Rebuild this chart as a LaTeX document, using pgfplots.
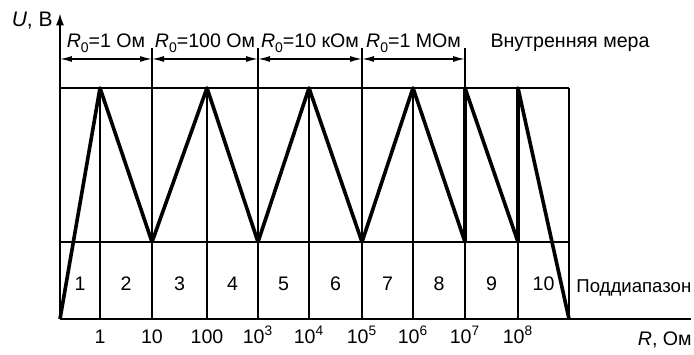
\documentclass[border=0pt]{standalone}
\usepackage{fontspec}
\setmainfont{Liberation Sans}
\usepackage{pgfplots}
\pgfplotsset{compat=1.18}
\usetikzlibrary{arrows.meta}
\newcommand{\Rnull}{\textit{R}\raisebox{-0.55ex}{\fontsize{7pt}{8pt}\selectfont 0}}
\begin{document}
\fontsize{9.8pt}{12pt}\selectfont
\begin{tikzpicture}[lbl/.style={inner sep=0pt}]
\useasboundingbox (-30pt,-17.5pt) rectangle (317pt,159.5pt);
\begin{axis}[
  anchor=south west, at={(0,0)},
  x=0.5pt, y=38.5pt,
  xmin=0, xmax=631, ymin=0, ymax=3.97,
  axis x line=bottom, axis y line=left,
  x axis line style={-, line width=1pt},
  y axis line style={-{Latex[length=6pt,width=4pt]}, line width=1pt},
  xtick={40,92,147,198,249,302,353,405,458,509},
  xticklabels={1,10,100,10\textsuperscript{3},10\textsuperscript{4},10\textsuperscript{5},10\textsuperscript{6},10\textsuperscript{7},10\textsuperscript{8}},
  ytick=\empty,
  major tick length=0pt,
  every x tick label/.append style={anchor=base, yshift=-12pt, font=\fontsize{9.8pt}{12pt}\selectfont},
  clip=false,
]
% frame and cell grid of the subranges
\draw[line width=0.7pt] (axis cs:0,1) -- (axis cs:509,1);
\draw[line width=0.7pt] (axis cs:0,3) -- (axis cs:509,3);
\pgfplotsinvokeforeach{40,147,249,353,458,509}{
  \draw[line width=0.7pt] (axis cs:#1,0) -- (axis cs:#1,3);
}
% boundaries between R0 ranges reach above the frame
\pgfplotsinvokeforeach{92,198,302,405}{
  \draw[line width=0.7pt] (axis cs:#1,0) -- (axis cs:#1,3.52);
}
% dimension arrows of the R0 ranges
\draw[line width=0.7pt, {Latex[length=6pt,width=3pt]}-{Latex[length=6pt,width=3pt]}] (axis cs:0,3.377) -- (axis cs:92,3.377);
\draw[line width=0.7pt, {Latex[length=6pt,width=3pt]}-{Latex[length=6pt,width=3pt]}] (axis cs:92,3.377) -- (axis cs:198,3.377);
\draw[line width=0.7pt, {Latex[length=6pt,width=3pt]}-{Latex[length=6pt,width=3pt]}] (axis cs:198,3.377) -- (axis cs:302,3.377);
\draw[line width=0.7pt, {Latex[length=6pt,width=3pt]}-{Latex[length=6pt,width=3pt]}] (axis cs:302,3.377) -- (axis cs:405,3.377);
% output voltage over the ranges
\addplot[black, line width=1.8pt, line join=round, mark=none] coordinates {
  (0,0) (40,3) (92,1) (147,3) (198,1) (249,3) (302,1) (353,3)
  (405,1) (405,3) (458,1) (458,3) (509,0)
};
% range captions
\node[lbl, anchor=base] at (axis cs:46,3.53) {\Rnull=1 Ом};
\node[lbl, anchor=base] at (axis cs:145,3.53) {\Rnull=100 Ом};
\node[lbl, anchor=base] at (axis cs:250,3.53) {\Rnull=10 кОм};
\node[lbl, anchor=base] at (axis cs:353.5,3.53) {\Rnull=1 МОм};
\node[lbl, anchor=base] at (axis cs:510,3.53) {Внутренняя мера};
% subrange numbers
\node[lbl, anchor=base] at (axis cs:20,0.364) {1};
\node[lbl, anchor=base] at (axis cs:66,0.364) {2};
\node[lbl, anchor=base] at (axis cs:119.5,0.364) {3};
\node[lbl, anchor=base] at (axis cs:172.5,0.364) {4};
\node[lbl, anchor=base] at (axis cs:223.5,0.364) {5};
\node[lbl, anchor=base] at (axis cs:275.5,0.364) {6};
\node[lbl, anchor=base] at (axis cs:327.5,0.364) {7};
\node[lbl, anchor=base] at (axis cs:379,0.364) {8};
\node[lbl, anchor=base] at (axis cs:431.5,0.364) {9};
\node[lbl, anchor=base] at (axis cs:483.5,0.364) {10};
\node[lbl, anchor=base west, font=\fontsize{9.3pt}{11pt}\selectfont] at (axis cs:516,0.35) {Поддиапазон};
% axis titles
\node[lbl, anchor=base east, font=\fontsize{10.5pt}{12pt}\selectfont] at (axis cs:-7,3.805) {\textit{U}, В};
\node[lbl, anchor=base east] at (axis cs:632,-0.338) {\textit{R}, Ом};
\end{axis}
\end{tikzpicture}
\end{document}
